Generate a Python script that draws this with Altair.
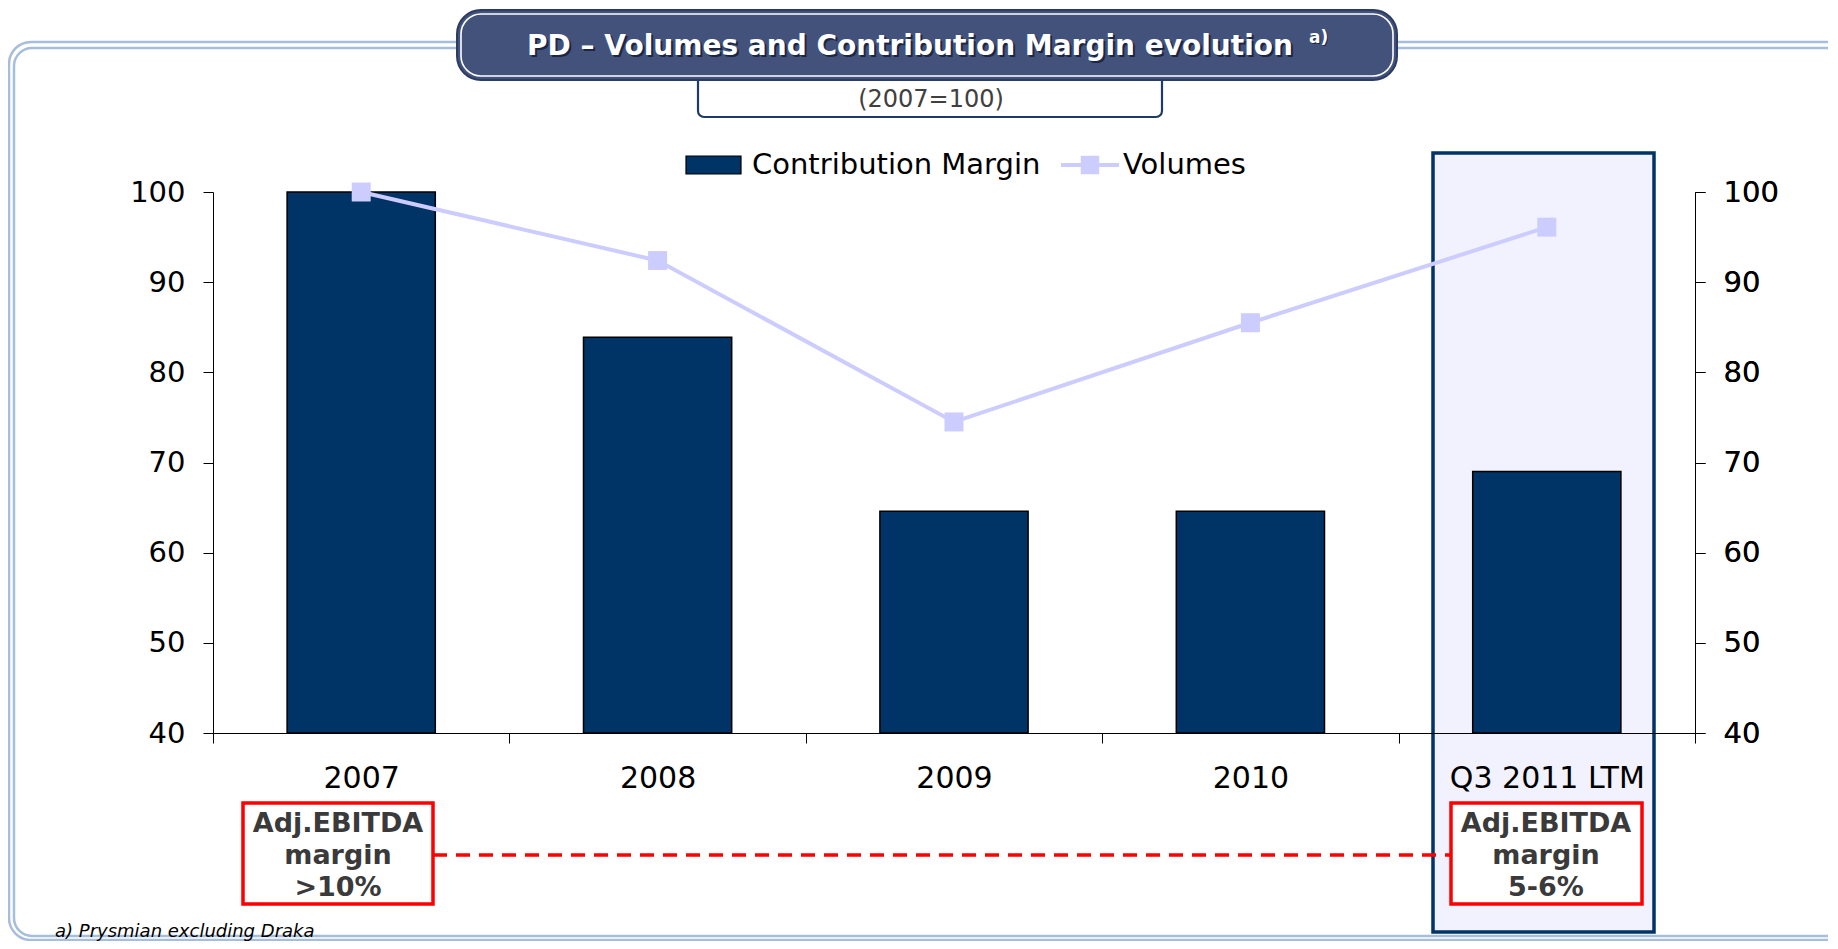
import altair as alt
import pandas as pd

# ---------------- data ----------------
categories = ["2007", "2008", "2009", "2010", "Q3 2011 LTM"]
contribution_margin = [100.0, 83.9, 64.6, 64.6, 69.0]
volumes = [100.0, 92.4, 74.5, 85.5, 96.1]
series_names = ["Contribution Margin", "Volumes"]
y_ticks = [40, 50, 60, 70, 80, 90, 100]
y_domain = [40, 100]
title_text = "PD – Volumes and Contribution Margin evolution"
title_note = "a)"
subtitle_text = "(2007=100)"
box_left_lines = ["Adj.EBITDA", "margin", ">10%"]
box_right_lines = ["Adj.EBITDA", "margin", "5-6%"]
footnote_text = "a) Prysmian excluding Draka"

FONT = "DejaVu Sans"
NAVY = "#003366"
LAVENDER = "#CCCCFF"
W, H = 1482, 541

df = pd.DataFrame({"cat": categories, "cm": contribution_margin, "vol": volumes})
one = pd.DataFrame({"k": [0]})

xenc = alt.X("cat:N", sort=categories,
             scale=alt.Scale(paddingInner=0, paddingOuter=0),
             axis=alt.Axis(title=None, labelAngle=0, labelFontSize=30, labelFont=FONT,
                           labelColor="#000000", labelPadding=20, tickSize=10, labelLimit=0,
                           tickBand="extent", tickColor="#000000", domainColor="#000000",
                           zindex=1))

def rect(x, x2, y, y2, **kw):
    return alt.Chart(one).mark_rect(**kw).encode(
        x=alt.value(x), x2=alt.value(x2), y=alt.value(y), y2=alt.value(y2))

def text(t, x, y, **kw):
    return alt.Chart(pd.DataFrame({"t": [t]})).mark_text(font=FONT, **kw).encode(
        x=alt.value(x), y=alt.value(y), text="t:N")

# outer light-blue double frame
frame1 = rect(-204, 1800, -150, 748, fill=None, stroke="#A6BEDC", strokeWidth=2.5, cornerRadius=22)
frame2 = rect(-199, 1800, -144, 744, fill=None, stroke="#A6BEDC", strokeWidth=2.5, cornerRadius=18)

# subtitle box + title box
sub_box = rect(485, 949, -130, -75, fill="white", stroke="#1F3A66", strokeWidth=2.2, cornerRadius=6)
title_box = rect(244, 1184, -182, -112, fill="#42527A", stroke="#2C3C62", strokeWidth=2, cornerRadius=24)
title_inner = rect(248, 1180, -178, -116, fill=None, stroke="white", strokeWidth=1.6, cornerRadius=20)
title_shadow = text(title_text, 699, -143, fontSize=28, fontWeight="bold", color="#1B2644",
                    align="center", baseline="middle")
title_main = text(title_text, 697, -145, fontSize=28, fontWeight="bold", color="white",
                  align="center", baseline="middle")
note_shadow = text(title_note, 1097, -153, fontSize=17, fontWeight="bold", color="#1B2644",
                   align="left", baseline="middle")
note_main = text(title_note, 1096, -154, fontSize=17, fontWeight="bold", color="white",
                 align="left", baseline="middle")
subtitle = text(subtitle_text, 718, -92, fontSize=24, color="#404040", align="center", baseline="middle")

# legend
leg_sw = rect(473, 528, -36, -18, fill=NAVY, stroke="#000000", strokeWidth=1.2)
leg_t1 = text(series_names[0], 539, -27, fontSize=29, color="#000000", align="left", baseline="middle")
leg_line = alt.Chart(one).mark_rule(color=LAVENDER, strokeWidth=4).encode(
    x=alt.value(848), x2=alt.value(906), y=alt.value(-27))
leg_pt = alt.Chart(one).mark_point(shape="square", size=340, filled=True, opacity=1,
                                   color=LAVENDER).encode(x=alt.value(877), y=alt.value(-27))
leg_t2 = text(series_names[1], 910, -27, fontSize=29, color="#000000", align="left", baseline="middle")

# highlight column
highlight = rect(1220, 1441, -39, 740, fill="#F2F2FE", stroke=NAVY, strokeWidth=3.5)

# data layers
bars = alt.Chart(df).mark_bar(color=NAVY, stroke="#000000", strokeWidth=1.5,
                              width=alt.RelativeBandSize(0.5)).encode(
    x=xenc,
    y=alt.Y("cm:Q", scale=alt.Scale(domain=y_domain, zero=False, nice=False),
            axis=alt.Axis(title=None, values=y_ticks, labelFontSize=29, labelFont=FONT,
                          labelColor="#000000", labelPadding=18, tickSize=10, grid=False,
                          tickColor="#000000", domainColor="#000000")),
    y2=alt.datum(40),
)
yr = alt.Y("vol:Q", scale=alt.Scale(domain=y_domain, zero=False, nice=False),
           axis=alt.Axis(title=None, orient="right", values=y_ticks, labelFontSize=29,
                         labelFont=FONT, labelColor="#000000", labelPadding=18, tickSize=10,
                         grid=False, tickColor="#000000", domainColor="#000000"))
line = alt.Chart(df).mark_line(color=LAVENDER, strokeWidth=4).encode(
    x=alt.X("cat:N", sort=categories), y=yr)
pts = alt.Chart(df).mark_point(shape="square", size=360, filled=True, opacity=1,
                               color=LAVENDER).encode(x=alt.X("cat:N", sort=categories), y=yr)

# EBITDA margin boxes
dash = alt.Chart(one).mark_rule(color="#FF0000", strokeWidth=3.5, strokeDash=[14, 9]).encode(
    x=alt.value(220), x2=alt.value(1238), y=alt.value(663))
box_l = rect(30, 220, 611, 712, fill="white", stroke="#FF0000", strokeWidth=3.5)
box_r = rect(1238, 1429, 611, 712, fill="white", stroke="#FF0000", strokeWidth=3.5)
box_texts = []
for lines, cx in ((box_left_lines, 125), (box_right_lines, 1333)):
    for i, t in enumerate(lines):
        box_texts.append(text(t, cx, 632 + 32 * i, fontSize=27, fontWeight="bold",
                              color="#3A3A3A", align="center", baseline="middle"))

footnote = text(footnote_text, -158, 745, fontSize=18, fontStyle="italic", color="#000000",
                align="left", baseline="alphabetic")

chart = alt.layer(
    frame1, frame2, sub_box, title_box, title_inner, title_shadow, title_main,
    note_shadow, note_main, subtitle, leg_sw, leg_t1, leg_line, leg_pt, leg_t2,
    highlight, bars, line, pts, dash, box_l, box_r, *box_texts, footnote,
).resolve_scale(y="independent").properties(
    width=W, height=H,
    autosize=alt.AutoSizeParams(type="none"),
    padding={"left": 205, "top": 184, "right": 133, "bottom": 208},
).configure_view(stroke=None).configure_axis(domainWidth=1, tickWidth=1)

chart.save("out.html", embed_options={"renderer": "svg", "actions": False})
